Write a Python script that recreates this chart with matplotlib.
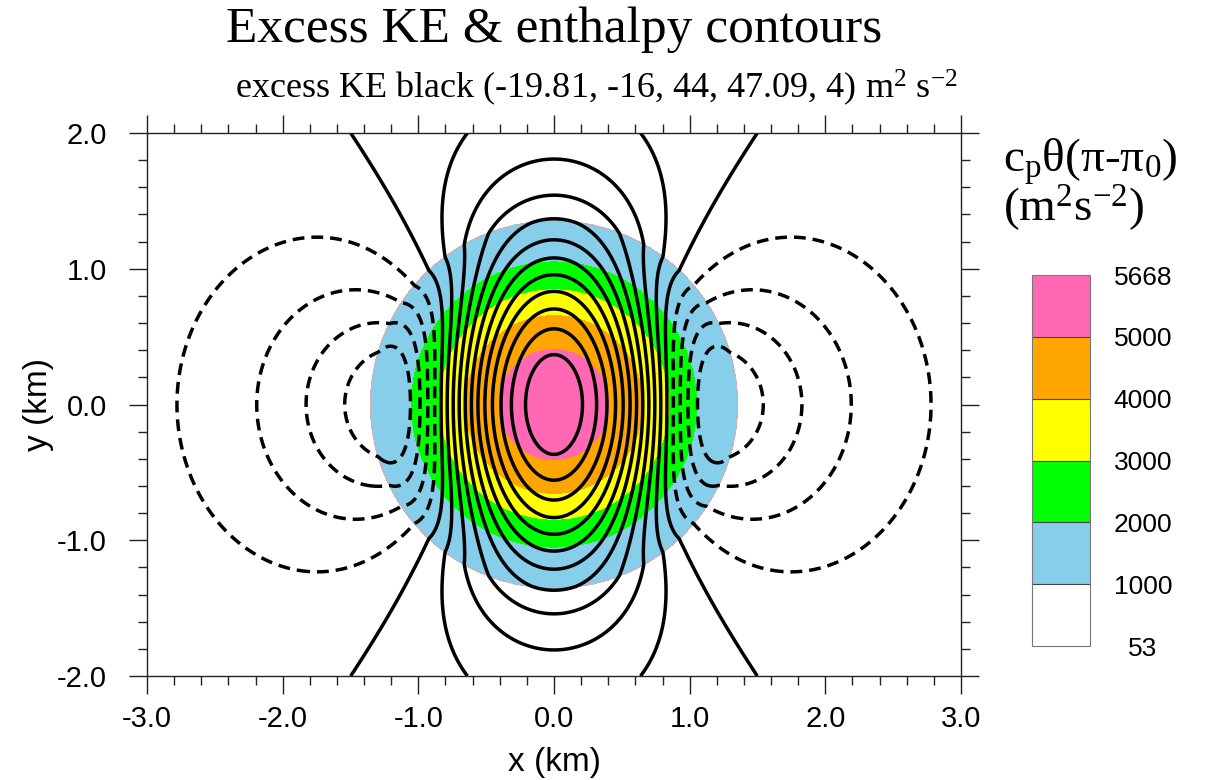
import math
import numpy as np
import matplotlib
matplotlib.use('Agg')
import matplotlib.pyplot as plt
from matplotlib.ticker import MultipleLocator, FormatStrFormatter

# ---- values ----
# enthalpy label bar, c_p*theta*(pi - pi0) in m2 s-2
ENTH_BOUNDS = [53, 1000, 2000, 3000, 4000, 5000, 5668]
ENTH_COLORS = ['#FFFFFF', '#87CEEB', '#00FF00', '#FFFF00', '#FFA500', '#FF69B4']
# radius (km) at which each enthalpy value is reached
ENTH_RADII = [0.0, 0.405, 0.655, 0.845, 1.05, 1.35, 1.36, 3.7]
ENTH_VALUES = [5668, 5000, 4000, 3000, 2000, 1050, 900, 53]

# excess KE contour levels (m2 s-2)
KE_LEVELS = [-16, -12, -8, -4, 0, 4, 8, 12, 16, 20, 24, 28, 32, 36, 40, 44]
KE_STATS = ['-19.81', '-16', '44', '47.09', '4']   # min, low level, high level, max, step

# dipole (bubble) shape, km
BUBBLE_RADIUS = 1.35
KE_WIND = 17.7        # weight of lab frame vertical wind term
KE_SQUARE = -2.39     # weight of kinetic energy term
OUTER_DECAY = 0.82    # e-folding distance outside the bubble
OUTER_OFFSET = 4.2    # extra negative part outside
OFFSET_SCALE = 0.5

J1_ZERO = 3.8317      # first zero of Bessel J1

plt.rcParams['font.family'] = ['Liberation Sans', 'DejaVu Sans']
plt.rcParams['mathtext.fontset'] = 'custom'
plt.rcParams['mathtext.rm'] = 'Liberation Serif'
plt.rcParams['mathtext.it'] = 'Liberation Serif'
plt.rcParams['mathtext.bf'] = 'Liberation Serif:bold'


def bessel(z, order, terms=30):
    """Power series of the Bessel function J_order."""
    half = z / 2.0
    total = np.zeros_like(z, dtype=float)
    for m in range(terms):
        total += (-1) ** m * half ** (2 * m + order) / (math.factorial(m) * math.factorial(m + order))
    return total


def excess_ke(x, y):
    """Lamb-Chaplygin type dipole, lab frame."""
    a = BUBBLE_RADIUS
    k = J1_ZERO / a
    r = np.maximum(np.hypot(x, y), 1e-9)
    z = k * r
    c = 2.0 / (k * bessel(np.array(J1_ZERO), 0))

    g_in = c * k * bessel(z, 1) / z
    dg_in = -c * k * k * bessel(z, 2) / z
    u = dg_in * x * y / r
    v = 1.0 - (g_in + dg_in * x * x / r)
    e_in = KE_WIND * v + KE_SQUARE * 0.5 * (u ** 2 + v ** 2)

    # outside: value on the bubble edge, decaying away from it
    d = np.maximum(r - a, 0)
    cos2 = (y ** 2 - x ** 2) / r ** 2
    edge = KE_WIND * cos2 + KE_SQUARE / 2
    e_out = (edge - OUTER_OFFSET * (1 - np.exp(-d / OFFSET_SCALE))) * np.exp(-d / OUTER_DECAY)
    return np.where(r < a, e_in, e_out)


xs = np.linspace(-3, 3, 601)
ys = np.linspace(-2, 2, 401)
X, Y = np.meshgrid(xs, ys)
R = np.hypot(X, Y)
H = np.interp(R, ENTH_RADII, ENTH_VALUES)
E = excess_ke(X, Y)

fig = plt.figure(figsize=(12.05, 7.8), dpi=100)
ax = fig.add_axes([147 / 1205, 1 - 676 / 780, 814 / 1205, 543 / 780])

cf = ax.contourf(X, Y, H, levels=ENTH_BOUNDS, colors=ENTH_COLORS)
ax.contour(X, Y, H, levels=[1000], colors='#f4a0a0', linewidths=0.6)

ke_styles = [(0, (3.4, 2.0)) if lv < 0 else 'solid' for lv in KE_LEVELS]
ax.contour(X, Y, E, levels=KE_LEVELS, colors='k', linewidths=2.5, linestyles=ke_styles)

# axes, NCL style outward ticks on all four sides
ax.set_xlim(-3, 3)
ax.set_ylim(-2, 2)
ax.xaxis.set_major_locator(MultipleLocator(1.0))
ax.yaxis.set_major_locator(MultipleLocator(1.0))
ax.xaxis.set_minor_locator(MultipleLocator(0.2))
ax.yaxis.set_minor_locator(MultipleLocator(0.2))
ax.xaxis.set_major_formatter(FormatStrFormatter('%.1f'))
ax.yaxis.set_major_formatter(FormatStrFormatter('%.1f'))
ax.tick_params(which='both', direction='out', top=True, right=True, width=1.0, color='#222222')
ax.tick_params(which='major', length=13, labelsize=21)
ax.tick_params(which='minor', length=6.5)
ax.tick_params(axis='x', which='major', pad=8)
ax.tick_params(axis='y', which='major', pad=16)
for sp in ax.spines.values():
    sp.set_linewidth(1.0)
    sp.set_color('#222222')

fig.text(554 / 1205, 1 - 762 / 780, 'x (km)', ha='center', va='center', fontsize=24)
fig.text(38 / 1205, 1 - 404 / 780, 'y (km)', ha='center', va='center', fontsize=24, rotation=90)

# titles
fig.text(554 / 1205, 1 - 30 / 780, 'Excess KE & enthalpy contours', ha='center', va='center',
         fontsize=37, family='Liberation Serif')
sub = 'excess KE black (' + ', '.join(KE_STATS) + ') m$^{2}$ s$^{-2}$'
fig.text(958 / 1205, 1 - 98 / 780, sub, ha='right', va='baseline', fontsize=26, family='Liberation Serif')

# label bar
cax = fig.add_axes([1032 / 1205, 1 - 646 / 780, 58 / 1205, 371 / 780])
cb = fig.colorbar(cf, cax=cax, spacing='uniform', drawedges=True)
cb.set_ticks(ENTH_BOUNDS, labels=[str(v) for v in ENTH_BOUNDS])
cb.ax.tick_params(length=0, pad=38, labelsize=19)
for lab in cb.ax.get_yticklabels():
    lab.set_horizontalalignment('center')
cb.outline.set_edgecolor('#777777')
cb.outline.set_linewidth(0.8)
cb.dividers.set_color('#444444')
cb.dividers.set_linewidth(0.8)

fig.text(1003 / 1205, 1 - 172 / 780, 'c$_{p}$θ(π-π$_{0}$)', ha='left', va='baseline',
         fontsize=34, family='Liberation Serif')
fig.text(1003 / 1205, 1 - 221 / 780, '(m$^{2}$s$^{-2}$)', ha='left', va='baseline',
         fontsize=34, family='Liberation Serif')

fig.savefig('out.png', dpi=100)
